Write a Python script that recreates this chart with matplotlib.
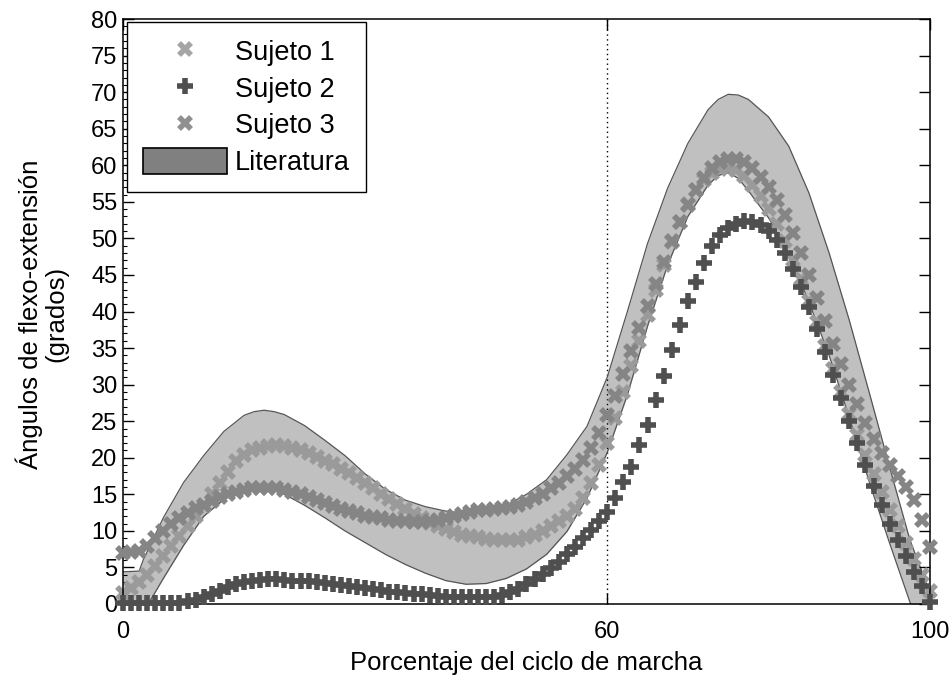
import matplotlib
matplotlib.use("Agg")
import matplotlib.pyplot as plt
from matplotlib.lines import Line2D
from matplotlib.patches import Patch
from matplotlib.ticker import MultipleLocator
import numpy as np

plt.rcParams['font.family'] = ['Liberation Sans', 'DejaVu Sans']

# ---------------- data ----------------
pct = list(range(0, 101))

sujeto1 = [1.5, 2.2, 3.0, 4.0, 5.2, 6.5, 7.9, 9.3, 10.6, 12.0,
           13.4, 15.0, 16.5, 18.0, 19.5, 20.4, 21.0, 21.4, 21.6, 21.7,
           21.6, 21.4, 21.0, 20.6, 20.1, 19.6, 19.1, 18.5, 17.9, 17.2,
           16.5, 15.8, 15.1, 14.4, 13.7, 13.0, 12.3, 11.7, 11.1, 10.6,
           10.2, 9.8, 9.5, 9.3, 9.1, 8.9, 8.8, 8.7, 8.7, 8.8,
           9.1, 9.5, 10.0, 10.6, 11.3, 12.0, 13.0, 14.5, 16.5, 19.0,
           22.0, 25.5, 29.0, 32.5, 36.0, 39.5, 43.0, 46.3, 49.5, 52.3,
           54.7, 56.6, 58.0, 59.0, 59.5, 59.6, 59.3, 58.5, 57.3, 55.8,
           54.0, 51.9, 49.6, 47.1, 44.4, 41.5, 38.5, 35.3, 32.1, 29.0,
           26.0, 23.1, 20.4, 17.8, 15.3, 12.9, 10.6, 8.4, 6.2, 4.0,
           1.8]

sujeto2 = [0.1, 0.1, 0.1, 0.1, 0.1, 0.1, 0.1, 0.2, 0.4, 0.6,
           0.9, 1.3, 1.8, 2.3, 2.7, 3.0, 3.2, 3.3, 3.4, 3.4,
           3.3, 3.2, 3.2, 3.1, 3.0, 2.9, 2.8, 2.6, 2.5, 2.3,
           2.2, 2.0, 1.9, 1.7, 1.6, 1.5, 1.4, 1.3, 1.2, 1.1,
           1.0, 0.9, 0.9, 0.9, 0.9, 0.9, 1.0, 1.2, 1.6, 2.1,
           2.7, 3.4, 4.1, 4.9, 5.8, 6.8, 7.8, 9.0, 10.1, 11.3,
           12.6, 14.5, 16.7, 18.8, 21.7, 24.5, 27.9, 31.2, 34.8, 38.1,
           41.4, 44.0, 46.7, 49.0, 50.5, 51.4, 52.0, 52.4, 52.3, 51.8,
           51.0, 49.8, 48.0, 45.8, 43.3, 40.6, 37.6, 34.5, 31.3, 28.2,
           25.0, 22.0, 19.0, 16.2, 13.6, 11.0, 8.7, 6.5, 4.4, 2.4,
           0.3]

sujeto3 = [7.0, 7.1, 7.3, 8.0, 9.0, 10.0, 11.0, 11.8, 12.5, 13.1,
           13.6, 14.1, 14.6, 15.0, 15.3, 15.6, 15.8, 15.9, 15.9, 15.8,
           15.6, 15.3, 15.0, 14.6, 14.2, 13.8, 13.4, 13.0, 12.7, 12.4,
           12.1, 11.9, 11.7, 11.5, 11.4, 11.3, 11.2, 11.2, 11.3, 11.5,
           11.7, 12.0, 12.3, 12.6, 12.8, 12.9, 13.0, 13.1, 13.3, 13.6,
           14.0, 14.5, 15.1, 15.8, 16.6, 17.5, 18.5, 19.7, 21.3, 23.4,
           25.8, 28.5, 31.5, 34.6, 37.7, 40.8, 43.8, 46.8, 49.6, 52.2,
           54.6, 56.6, 58.3, 59.6, 60.4, 60.8, 60.8, 60.4, 59.6, 58.4,
           57.0, 55.3, 53.2, 50.8, 48.0, 45.0, 41.9, 38.7, 35.6, 32.8,
           30.0, 27.3, 24.8, 22.5, 20.6, 19.0, 17.5, 16.0, 14.2, 11.5,
           7.8]

# literature band (upper / lower limits)
lit_x = [0, 2, 2.5, 5, 7.5, 10, 12.5, 15, 16.25, 17.5, 18.75, 20, 22.5,
         25, 27.5, 30, 32.5, 35, 37.5, 40, 42.5, 45, 47.5, 50, 52.5, 55,
         57.5, 60, 62.5, 65, 67.5, 70, 72.5, 73.75, 75, 76.25, 77.5, 80,
         82.5, 85, 87.5, 90, 92.5, 95, 97.5, 100]
lit_upper = [4.4, 4.5, 6.0, 11.8, 16.6, 20.3, 23.6, 25.8, 26.3, 26.5,
             26.3, 25.9, 24.4, 22.4, 20.3, 17.8, 15.7, 14.2, 13.3, 12.7,
             12.4, 12.7, 13.5, 15.0, 17.0, 20.4, 24.3, 31.0, 40.0, 49.3,
             56.9, 63.0, 67.6, 69.0, 69.7, 69.6, 69.0, 66.6, 62.6, 56.2,
             48.0, 38.8, 28.8, 18.7, 8.8, 1.5]
lit_lower = [-4.0, -2.0, -1.2, 3.5, 8.0, 12.0, 14.3, 15.6, 15.9, 16.0,
             15.6, 15.0, 13.5, 11.8, 10.0, 8.4, 6.8, 5.4, 4.2, 3.2,
             2.7, 2.8, 3.5, 4.8, 6.8, 9.9, 14.5, 20.7, 28.6, 38.0,
             46.4, 53.0, 57.3, 58.6, 59.0, 58.2, 56.5, 52.8, 47.9, 41.3,
             34.0, 25.5, 16.6, 8.3, 0.3, -7.0]

labels = ['Sujeto 1', 'Sujeto 2', 'Sujeto 3', 'Literatura']
x_ticks = [0, 60, 100]
y_ticks = list(range(0, 81, 5))
toe_off = 60

# ---------------- figure ----------------
fig = plt.figure(figsize=(9.53, 6.77), dpi=100)
ax = fig.add_axes([123 / 953, 73 / 677, 807 / 953, 585 / 677])

c_band = '#c0c0c0'
c_edge = '#555555'
c1 = '#9a9a9a'
c2 = '#4f4f4f'
c3 = '#858585'

ax.fill_between(lit_x, lit_lower, lit_upper, color=c_band, lw=0, zorder=1)
ax.plot(lit_x, lit_upper, color=c_edge, lw=0.9, zorder=1.5)
ax.plot(lit_x, lit_lower, color=c_edge, lw=0.9, zorder=1.5)

ax.axvline(toe_off, color='black', ls=(0, (1, 2.5)), lw=1.0, zorder=1.2)

ax.plot(pct, sujeto1, ls='none', marker='x', ms=9, mew=4, color=c1,
        zorder=2, clip_on=False)
ax.plot(pct, sujeto3, ls='none', marker='x', ms=9, mew=4, color=c3,
        zorder=3, clip_on=False)
ax.plot(pct, sujeto2, ls='none', marker='+', ms=11, mew=4, color=c2,
        zorder=4, clip_on=False)

ax.set_xlim(0, 100)
ax.set_ylim(0, 80)
ax.set_xticks(x_ticks)
ax.set_yticks(y_ticks)
ax.yaxis.set_minor_locator(MultipleLocator(1))
ax.tick_params(axis='both', which='major', direction='in', length=8,
               width=1, labelsize=17, top=True, right=True, pad=4)
ax.tick_params(axis='x', which='major', pad=12)
ax.tick_params(axis='y', which='minor', direction='in', length=3,
               width=0.8, right=False)
for s in ax.spines.values():
    s.set_linewidth(1.1)

ax.set_xlabel('Porcentaje del ciclo de marcha', fontsize=18.5, labelpad=6)
ax.set_ylabel('Ángulos de flexo-extensión\n(grados)', fontsize=18.5,
              linespacing=1.05)
ax.yaxis.set_label_coords(-0.068, 0.495)

handles = [
    Line2D([], [], ls='none', marker='x', ms=9, mew=4, color='#a5a5a5'),
    Line2D([], [], ls='none', marker='+', ms=11, mew=4, color=c2),
    Line2D([], [], ls='none', marker='x', ms=9, mew=4, color='#909090'),
    Patch(facecolor='#808080', edgecolor='black', lw=1.2),
]
leg = ax.legend(handles, labels, loc='upper left',
                bbox_to_anchor=(0.005, 0.995), borderaxespad=0,
                fontsize=19.5, frameon=True, fancybox=False,
                handlelength=3.1, handleheight=1.05, handletextpad=0.28,
                labelspacing=0.33, borderpad=0.6)
leg.get_frame().set_edgecolor('black')
leg.get_frame().set_linewidth(1.0)
leg.get_frame().set_alpha(1)

fig.savefig('out.png', dpi=100)
